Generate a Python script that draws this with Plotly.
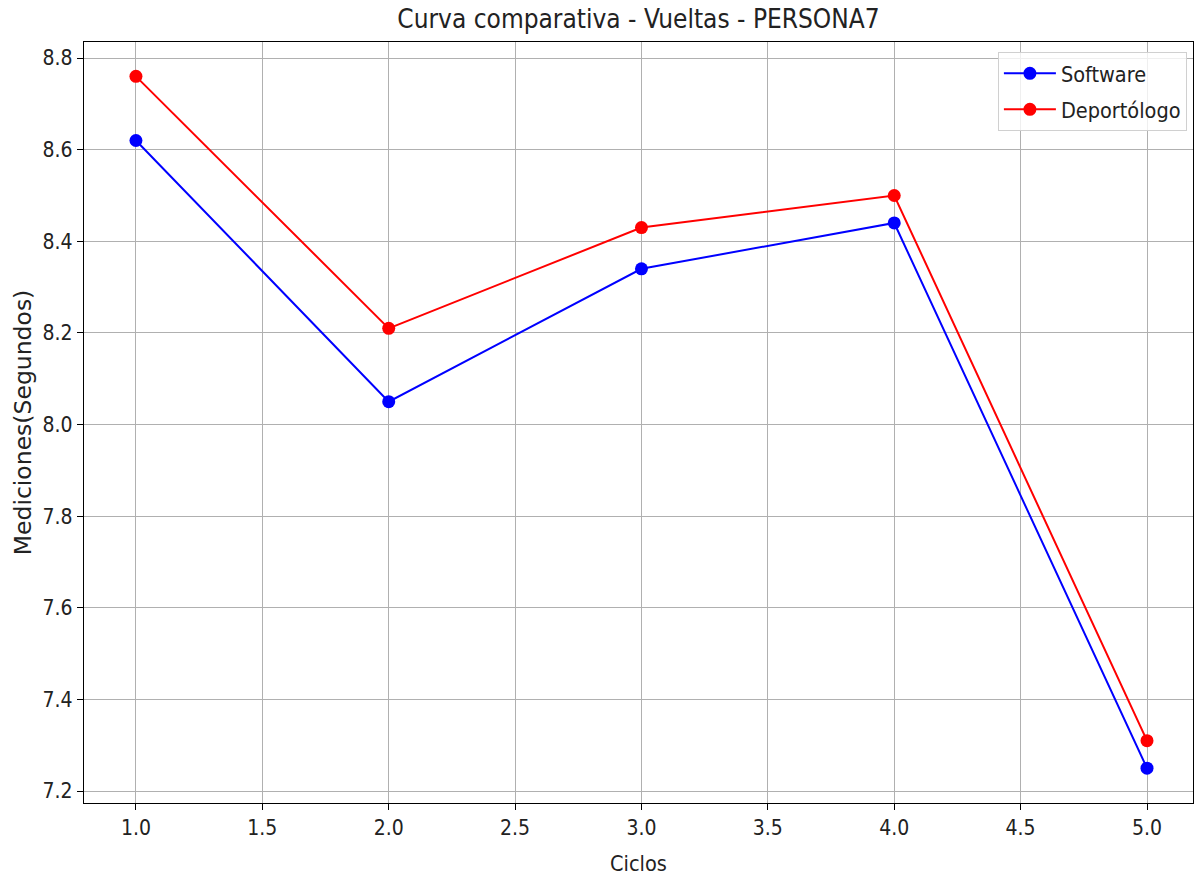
import plotly.graph_objects as go

ciclos = [1, 2, 3, 4, 5]
software = [8.62, 8.05, 8.34, 8.44, 7.25]
deportologo = [8.76, 8.21, 8.43, 8.50, 7.31]

FONT = "DejaVu Sans Condensed, DejaVu Sans, sans-serif"

fig = go.Figure()
fig.add_trace(go.Scatter(x=ciclos, y=software, mode="lines+markers", name="Software", legendgroup="a",
                         line=dict(color="#0000ff", width=2), marker=dict(size=13, color="#0000ff")))
fig.add_trace(go.Scatter(x=ciclos, y=deportologo, mode="lines+markers", name="Deportólogo", legendgroup="b",
                         line=dict(color="#ff0000", width=2), marker=dict(size=13, color="#ff0000")))

axis_common = dict(showline=True, linecolor="black", linewidth=1.3, mirror=True,
                   ticks="outside", ticklen=6, tickcolor="black", tickwidth=1.2,
                   showgrid=True, gridcolor="#b0b0b0", gridwidth=1, zeroline=False,
                   tickfont=dict(size=21, color="#222", family=FONT))

fig.update_layout(
    width=1194, height=879,
    paper_bgcolor="white", plot_bgcolor="white",
    margin=dict(l=84, r=1, t=42, b=76),
    font=dict(family=FONT, color="#222"),
    title=dict(text="Curva comparativa - Vueltas - PERSONA7", x=(84 + 1193) / 2 / 1194, xanchor="center",
               y=1 - 19 / 879, yanchor="middle", font=dict(size=26, family=FONT, color="#222")),
    xaxis=dict(range=[0.7945, 5.182], tickmode="array",
               tickvals=[1.0, 1.5, 2.0, 2.5, 3.0, 3.5, 4.0, 4.5, 5.0],
               ticktext=["1.0", "1.5", "2.0", "2.5", "3.0", "3.5", "4.0", "4.5", "5.0"],
               title=dict(text="Ciclos", font=dict(size=21.5, family=FONT), standoff=16), **axis_common),
    yaxis=dict(range=[7.174, 8.835], tickmode="array",
               tickvals=[7.2, 7.4, 7.6, 7.8, 8.0, 8.2, 8.4, 8.6, 8.8],
               ticktext=["7.2", "7.4", "7.6", "7.8", "8.0", "8.2", "8.4", "8.6", "8.8"],
               title=dict(text="Mediciones(Segundos)", font=dict(size=23.5, family="DejaVu Sans, sans-serif"),
                          standoff=4), **axis_common),
    legend=dict(x=0.9945, y=0.987, xanchor="right", yanchor="top",
                bgcolor="rgba(255,255,255,0.8)", bordercolor="#d0d0d0", borderwidth=1,
                font=dict(size=21.5, family=FONT, color="#222"), tracegroupgap=5,
                traceorder="grouped", itemwidth=52),
    showlegend=True,
)

fig.write_html("out.html")
